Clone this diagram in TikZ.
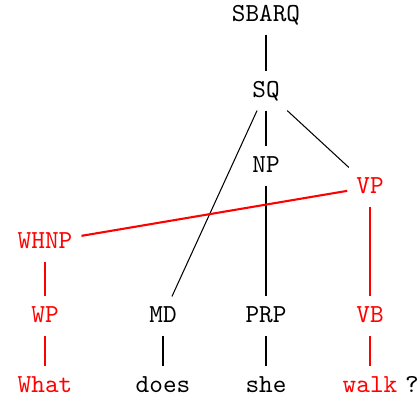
\documentclass[tikz,border=0pt]{standalone}
\usepackage{tikz}
\tikzset{
    lbl/.style={font=\ttfamily,text height=6.5pt,text depth=1.5pt},
    hl/.style={red},
    hledge/.style={red,thick}
}
\begin{document}
\begin{tikzpicture}[x=0.385pt,y=-0.385pt]
\useasboundingbox (0,0) rectangle (420,402);
% inner nodes
\node[lbl] (sbarq) at (266,15) {SBARQ};
\node[lbl] (sq) at (266,91) {SQ};
\node[lbl] (np) at (266,166) {NP};
\node[lbl,hl] (vp) at (370,187) {VP};
\node[lbl,hl] (whnp) at (45,242) {WHNP};
\node[lbl,hl] (wp) at (45,316) {WP};
\node[lbl] (md) at (163,316) {MD};
\node[lbl] (prp) at (266,316) {PRP};
\node[lbl,hl] (vb) at (370,316) {VB};
% words
\node[lbl,hl] (what) at (45,386) {What};
\node[lbl] (does) at (163,386) {does};
\node[lbl] (she) at (266,386) {she};
\node[lbl,hl] (walk) at (370,386) {walk};
\node[lbl] (qm) at (412,386) {?};
\foreach \a/\b in {sbarq/sq,sq/np,sq/md,sq/vp,np/prp,md/does,prp/she} {
    \draw (\a) -- (\b);
}
\foreach \a/\b in {vp/whnp,whnp/wp,wp/what,vp/vb,vb/walk} {
    \draw[hledge] (\a) -- (\b);
}
\end{tikzpicture}
\end{document}
